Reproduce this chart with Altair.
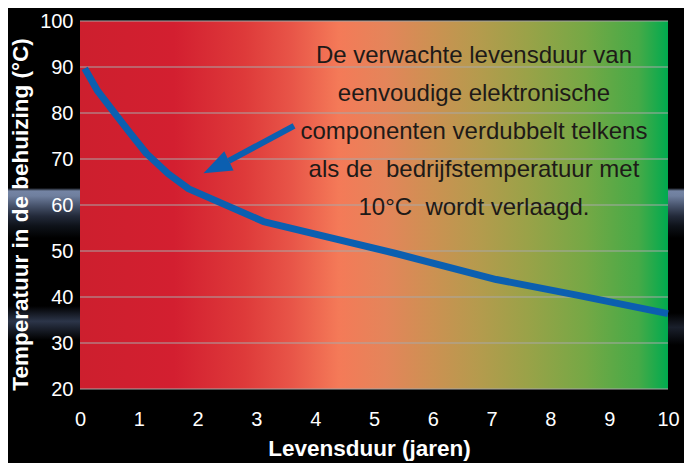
import altair as alt
import pandas as pd

# ---- data ----
years = [0.08, 0.3, 0.57, 0.85, 1.13, 1.5, 1.85, 3.12, 5.39, 7.08, 8.45, 10.0]
temps = [89.7, 84.8, 80.3, 75.7, 71.2, 66.8, 63.5, 56.4, 49.4, 43.8, 40.4, 36.4]

x_ticks = [0, 1, 2, 3, 4, 5, 6, 7, 8, 9, 10]
y_ticks = [20, 30, 40, 50, 60, 70, 80, 90, 100]
x_domain = [0, 10]
y_domain = [20, 100]

# arrow: tail, base of head, tip (data units)
arrow_tail = [3.64, 77.2]
arrow_base = [2.53, 69.6]
arrow_tip = [2.10, 66.9]

note_lines = [
    "De verwachte levensduur van",
    "eenvoudige elektronische",
    "componenten verdubbelt telkens",
    "als de\u00a0 bedrijfstemperatuur met",
    "10°C\u00a0 wordt verlaagd.",
]
note_x = [6.70, 6.70, 6.70, 6.70, 6.70]
note_y = [90.96, 82.7, 74.43, 66.17, 57.83]

# ---- tables ----
curve_df = pd.DataFrame({"x": years, "y": temps})
grid_df = pd.DataFrame({"y": y_ticks})
plot_df = pd.DataFrame({"x": [x_domain[0]], "x2": [x_domain[1]],
                        "y": [y_domain[0]], "y2": [y_domain[1]]})
shaft_df = pd.DataFrame({"x": [arrow_tail[0]], "y": [arrow_tail[1]],
                         "x2": [arrow_base[0]], "y2": [arrow_base[1]]})
head_df = pd.DataFrame({"x": [arrow_tip[0]], "y": [arrow_tip[1]]})
note_df = pd.DataFrame({"x": note_x, "y": note_y, "t": note_lines})
dummy = pd.DataFrame({"d": [0]})

xs = alt.Scale(domain=x_domain, nice=False, zero=False)
ys = alt.Scale(domain=y_domain, nice=False, zero=False)

X = alt.X("x:Q", scale=xs, axis=alt.Axis(
    values=x_ticks, format="d", title="Levensduur (jaren)", labelPadding=20,
    labelFlush=False, ticks=False, domain=False, grid=False, zindex=1,
    titleX=289, titleY=66, titleBaseline="alphabetic"))
Y = alt.Y("y:Q", scale=ys, axis=alt.Axis(
    values=y_ticks, format="d", title="Temperatuur in de behuizing (°C)",
    labelPadding=7, ticks=False, domain=False, grid=False, zindex=1,
    titleX=-53, titleY=193, titleAngle=-90, titleBaseline="alphabetic"))

glow1 = alt.Gradient(gradient="linear", x1=0, x2=0, y1=0, y2=1, stops=[
    alt.GradientStop(color="#000000", offset=0),
    alt.GradientStop(color="#7484A4", offset=0.06),
    alt.GradientStop(color="#6F7F9E", offset=0.16),
    alt.GradientStop(color="#46526A", offset=0.36),
    alt.GradientStop(color="#232A3A", offset=0.56),
    alt.GradientStop(color="#0E1219", offset=0.76),
    alt.GradientStop(color="#000000", offset=1),
])
glow2 = alt.Gradient(gradient="linear", x1=0, x2=0, y1=0, y2=1, stops=[
    alt.GradientStop(color="#000000", offset=0),
    alt.GradientStop(color="#2C3549", offset=0.45),
    alt.GradientStop(color="#000000", offset=1),
])

# decorative glow bands in the black surround (left and right of the plot)
band1l = alt.Chart(dummy).mark_rect(fill=glow1).encode(
    x=alt.value(-72), x2=alt.value(0), y=alt.value(167), y2=alt.value(217))
band1r = alt.Chart(dummy).mark_rect(fill=glow1).encode(
    x=alt.value(588), x2=alt.value(604), y=alt.value(167), y2=alt.value(217))
band2l = alt.Chart(dummy).mark_rect(fill=glow2).encode(
    x=alt.value(-72), x2=alt.value(0), y=alt.value(285), y2=alt.value(319))
band2r = alt.Chart(dummy).mark_rect(fill=glow2, opacity=0.6).encode(
    x=alt.value(588), x2=alt.value(604), y=alt.value(292), y2=alt.value(324))

bg = alt.Chart(plot_df).mark_rect(
    fill=alt.Gradient(gradient="linear", x1=0, x2=1, y1=0, y2=0, stops=[
        alt.GradientStop(color="#CD1F2E", offset=0.0),
        alt.GradientStop(color="#D31F30", offset=0.16),
        alt.GradientStop(color="#DE3A3A", offset=0.28),
        alt.GradientStop(color="#E85548", offset=0.36),
        alt.GradientStop(color="#F47A58", offset=0.44),
        alt.GradientStop(color="#E4855A", offset=0.52),
        alt.GradientStop(color="#CC9152", offset=0.60),
        alt.GradientStop(color="#B49B4D", offset=0.68),
        alt.GradientStop(color="#9AA248", offset=0.76),
        alt.GradientStop(color="#75A845", offset=0.86),
        alt.GradientStop(color="#46AA47", offset=0.95),
        alt.GradientStop(color="#00AA4F", offset=1.0),
    ])
).encode(x=X, x2="x2:Q", y=Y, y2="y2:Q")

grid = alt.Chart(grid_df).mark_rule(color="#A8A8A8", strokeWidth=1).encode(
    y=alt.Y("y:Q", scale=ys), x=alt.value(0), x2=alt.value(588))

curve = alt.Chart(curve_df).mark_line(
    color="#0B5FB0", strokeWidth=7, interpolate="linear",
    strokeCap="butt", strokeJoin="round"
).encode(x=alt.X("x:Q", scale=xs), y=alt.Y("y:Q", scale=ys))

shaft = alt.Chart(shaft_df).mark_rule(
    color="#0B5FB0", strokeWidth=6, strokeCap="butt"
).encode(x=alt.X("x:Q", scale=xs), y=alt.Y("y:Q", scale=ys), x2="x2:Q", y2="y2:Q")

head = alt.Chart(head_df).mark_point(
    shape="M0,0 L0.75,2 L-0.75,2 Z", filled=True, size=800, angle=244,
    color="#0B5FB0", opacity=1
).encode(x=alt.X("x:Q", scale=xs), y=alt.Y("y:Q", scale=ys))

note = alt.Chart(note_df).mark_text(
    font="Liberation Sans", fontSize=24, color="#1E1A18",
    align="center", baseline="alphabetic"
).encode(x=alt.X("x:Q", scale=xs), y=alt.Y("y:Q", scale=ys), text="t:N")

chart = alt.layer(bg, band1l, band1r, band2l, band2r, grid, curve, shaft, head, note).properties(
    width=588, height=368,
    background="black",
    padding={"left": 72, "top": 13, "right": 16, "bottom": 74},
    autosize=alt.AutoSizeParams(type="none"),
).configure_view(stroke=None).configure_axis(
    labelFont="Liberation Sans", labelFontSize=20, labelColor="white",
    titleFont="Liberation Sans", titleFontSize=22.5, titleFontWeight="bold",
    titleColor="white",
)

chart.save("out.html", embed_options={"renderer": "svg", "actions": False})
